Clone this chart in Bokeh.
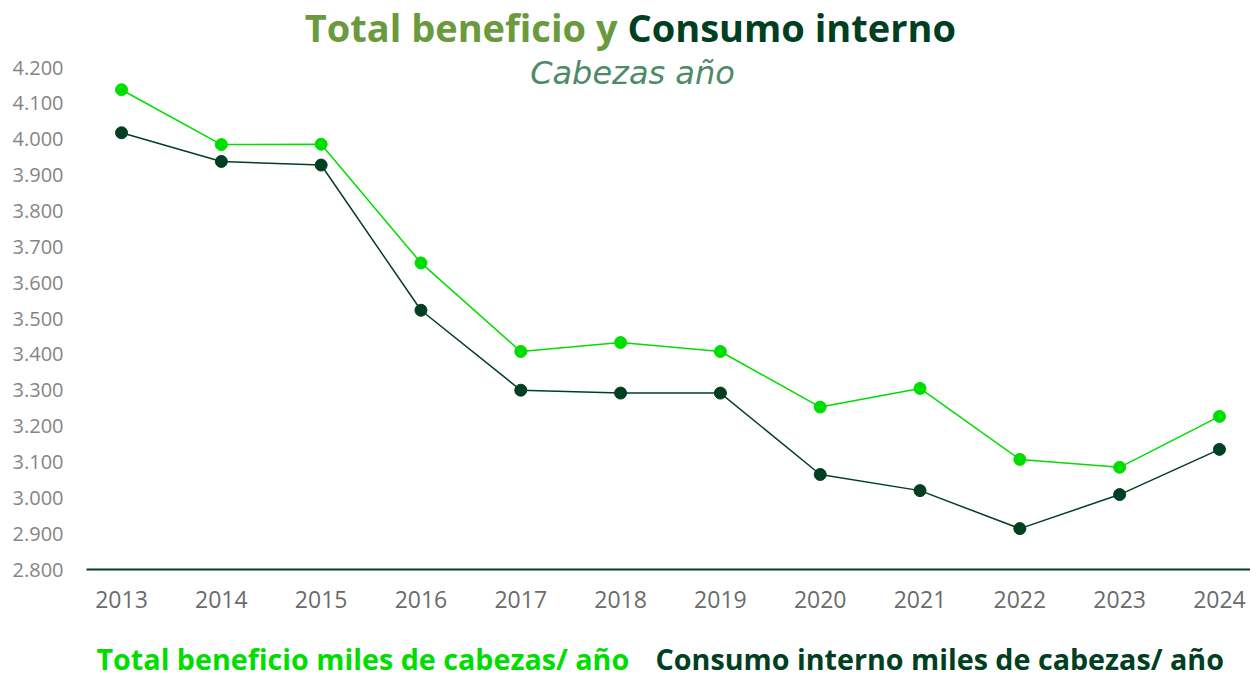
from bokeh.plotting import figure
from bokeh.models import Label, Range1d, FixedTicker
from bokeh.layouts import column
from bokeh.embed import file_html
from bokeh.resources import INLINE

years = [2013, 2014, 2015, 2016, 2017, 2018, 2019, 2020, 2021, 2022, 2023, 2024]
total_beneficio = [4138, 3985, 3986, 3655, 3408, 3433, 3408, 3253, 3305, 3107, 3085, 3227]
consumo_interno = [4018, 3938, 3928, 3523, 3300, 3292, 3292, 3065, 3020, 2914, 3009, 3135]
y_ticks = [2800, 2900, 3000, 3100, 3200, 3300, 3400, 3500, 3600, 3700, 3800, 3900, 4000, 4100, 4200]
y_tick_labels = ["2.800", "2.900", "3.000", "3.100", "3.200", "3.300", "3.400", "3.500",
                 "3.600", "3.700", "3.800", "3.900", "4.000", "4.100", "4.200"]
title_part1 = "Total beneficio y"
title_part2 = "Consumo interno"
subtitle = "Cabezas año"
legend_1 = "Total beneficio miles de cabezas/ año"
legend_2 = "Consumo interno miles de cabezas/ año"

GREEN = "#00DD00"
DARK = "#003F22"
OLIVE = "#6A9A3D"
TITLE_FONT = "Open Sans"
TICK_FONT = "Open Sans"

p = figure(width=1250, height=618, output_backend="svg", toolbar_location=None,
           x_range=Range1d(2012.649, 2024.311), y_range=Range1d(2800, 4386.9),
           min_border_left=86, min_border_right=0, min_border_top=0, min_border_bottom=49)
p.outline_line_color = None
p.xgrid.grid_line_color = None
p.ygrid.grid_line_color = None
p.background_fill_color = "white"
p.border_fill_color = "white"

p.line(years, total_beneficio, line_color=GREEN, line_width=1.5)
p.scatter(years, total_beneficio, size=12, fill_color=GREEN, line_color=GREEN)
p.line(years, consumo_interno, line_color=DARK, line_width=1.5)
p.scatter(years, consumo_interno, size=12, fill_color=DARK, line_color=DARK)

# x axis
xa = p.xaxis[0]
xa.ticker = FixedTicker(ticks=years)
xa.axis_line_color = DARK
xa.axis_line_width = 2
xa.major_tick_line_color = None
xa.minor_tick_line_color = None
xa.major_label_text_color = "#6b6b6b"
xa.major_label_text_font = TICK_FONT
xa.major_label_text_font_size = "23px"
xa.major_label_standoff = 15

# y axis
ya = p.yaxis[0]
ya.ticker = FixedTicker(ticks=y_ticks)
ya.major_label_overrides = {t: l for t, l in zip(y_ticks, y_tick_labels)}
ya.axis_line_color = None
ya.major_tick_line_color = None
ya.minor_tick_line_color = None
ya.major_label_text_color = "#858585"
ya.major_label_text_font = TICK_FONT
ya.major_label_text_font_size = "20px"
ya.major_label_standoff = 17

# title pieces
p.add_layout(Label(x=2017.969, y=4311.6, text=title_part1, text_align="right",
                   text_baseline="middle", text_font=TITLE_FONT, text_font_style="bold",
                   text_font_size="38px", text_color=OLIVE))
p.add_layout(Label(x=2018.069, y=4311.6, text=title_part2, text_align="left",
                   text_baseline="middle", text_font=TITLE_FONT, text_font_style="bold",
                   text_font_size="38px", text_color=DARK))
p.add_layout(Label(x=2018.119, y=4186, text=subtitle, text_align="center",
                   text_baseline="middle", text_font="DejaVu Sans", text_font_style="italic",
                   text_font_size="32px", text_color="#4E8A68"))

# legend strip (text-only legend, as in the reference); its frame is aligned with the main frame
lg = figure(width=1250, height=61, output_backend="svg", toolbar_location=None,
            x_range=Range1d(86, 1250), y_range=Range1d(0, 61),
            x_axis_type=None, y_axis_type=None,
            min_border_left=86, min_border_right=0, min_border_top=0, min_border_bottom=0)
lg.outline_line_color = None
lg.background_fill_color = "white"
lg.border_fill_color = "white"
lg.add_layout(Label(x=96, y=21, text=legend_1, text_align="left", text_baseline="middle",
                    text_font=TITLE_FONT, text_font_style="bold", text_font_size="28.7px",
                    text_color=GREEN))
lg.add_layout(Label(x=655, y=21, text=legend_2, text_align="left", text_baseline="middle",
                    text_font=TITLE_FONT, text_font_style="bold", text_font_size="28.7px",
                    text_color=DARK))

layout = column(p, lg, spacing=0)
open("out.html", "w").write(file_html(layout, INLINE))
